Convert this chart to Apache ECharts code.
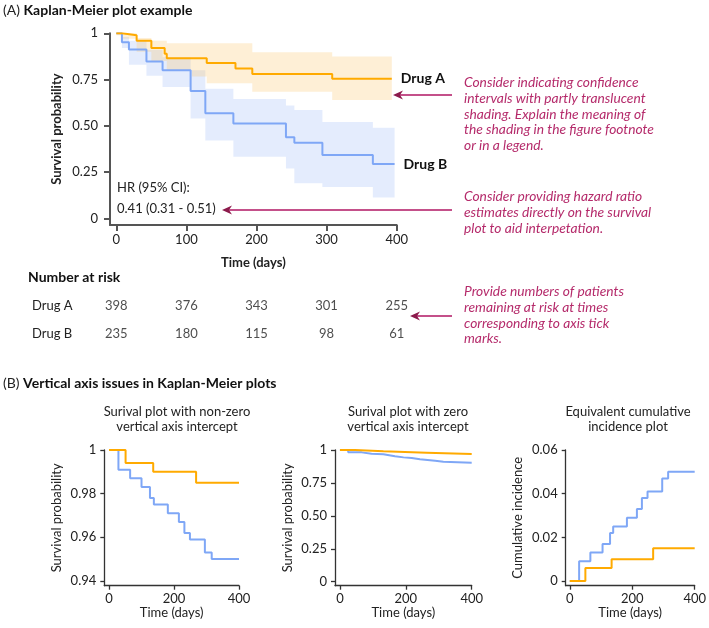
<!DOCTYPE html>
<html><head><meta charset="utf-8">
<script src="https://cdn.jsdelivr.net/npm/echarts@6/dist/echarts.min.js"></script>
<style>html,body{margin:0;padding:0;background:#fff}#c{width:709px;height:628px}</style>
</head><body><div id="c"></div>
<script>
const FONT = 'Lato';
// ---------- Panel A data ----------
const timeTicks = [0, 100, 200, 300, 400];
const survTicks = [0, 0.25, 0.5, 0.75, 1];
const drugATimes = [0, 8, 29, 50, 69, 72, 129, 170, 194, 308, 393];
const drugASurv  = [1, 0.99, 0.96, 0.92, 0.89, 0.865, 0.84, 0.81, 0.78, 0.755, 0.755];
const drugBTimes = [0, 8, 18, 43, 66, 106, 127, 167, 242, 254, 294, 366, 397];
const drugBSurv  = [1, 0.951, 0.913, 0.847, 0.80, 0.688, 0.568, 0.513, 0.438, 0.409, 0.342, 0.293, 0.293];
const bandATimes = [0, 8, 29, 50, 72, 108, 129, 194, 308, 393];
const bandALower = [0.99, 0.97, 0.90, 0.85, 0.80, 0.766, 0.73, 0.684, 0.64];
const bandAUpper = [1, 1, 0.975, 0.96, 0.946, 0.946, 0.946, 0.897, 0.874];
const bandBTimes = [0, 8, 18, 43, 66, 106, 127, 167, 242, 254, 294, 366, 397];
const bandBLower = [1, 0.92, 0.83, 0.77, 0.71, 0.54, 0.42, 0.333, 0.27, 0.19, 0.17, 0.113];
const bandBUpper = [1, 0.98, 0.96, 0.91, 0.87, 0.80, 0.70, 0.645, 0.61, 0.585, 0.52, 0.49];
const riskGroups = ['Drug A', 'Drug B'];
const riskTimes = [0, 100, 200, 300, 400];
const riskA = [398, 376, 343, 301, 255];
const riskB = [235, 180, 115, 98, 61];
// ---------- Panel B data ----------
const smallTimeTicks = [0, 200, 400];
// non-zero intercept plot
const smallATimes = [0, 51, 136, 268, 400];
const smallASurv  = [1, 0.994, 0.990, 0.985, 0.985];
const smallBTimes = [0, 29, 65, 100, 126, 138, 181, 215, 232, 249, 295, 316, 400];
const smallBSurv  = [1, 0.991, 0.987, 0.983, 0.978, 0.975, 0.971, 0.967, 0.962, 0.959, 0.953, 0.950, 0.950];
// zero intercept plot
const zeroATimes = [0, 46, 132, 263, 400];
const zeroASurv  = [1, 0.99, 0.98, 0.97, 0.97];
const zeroBTimes = [0, 25, 66, 96, 132, 167, 193, 218, 243, 266, 289, 314, 400];
const zeroBSurv  = [1, 0.982, 0.972, 0.967, 0.952, 0.944, 0.939, 0.929, 0.924, 0.919, 0.911, 0.904, 0.904];
// cumulative incidence plot
const cumATimes = [0, 50, 134, 267, 400];
const cumAInc   = [0, 0.006, 0.010, 0.015, 0.015];
const cumBTimes = [0, 30, 66, 105, 129, 139, 183, 215, 231, 249, 296, 315, 400];
const cumBInc   = [0, 0.009, 0.013, 0.017, 0.022, 0.025, 0.029, 0.033, 0.038, 0.041, 0.047, 0.050, 0.050];
const nonZeroTicks = [0.94, 0.96, 0.98, 1];
const zeroTicks = [0, 0.25, 0.5, 0.75, 1];
const cumTicks = [0, 0.02, 0.04, 0.06];

const ORANGE = '#FFAA00', BLUE = '#7FA7F6';
const MAG = '#b52b6b', ARROW_LINE = '#c4508a', ARROW_HEAD = '#8c1a4b';

function pairs(ts, vs) { return ts.map((t, i) => [t, vs[i]]); }

function stepLine(ts, vs, color, gi, width, endLabel) {
  const s = {
    type: 'line', xAxisIndex: gi, yAxisIndex: gi, data: pairs(ts, vs), step: 'end',
    symbol: 'none', lineStyle: { color: color, width: width }, itemStyle: { color: color },
    silent: true, z: 3, animation: false
  };
  if (endLabel) s.endLabel = { show: true, formatter: endLabel, distance: 9, fontFamily: FONT, fontWeight: 'bold', fontSize: 14, color: '#111' };
  return s;
}

function bandSeries(ts, lo, hi, color, gi) {
  const data = lo.map((l, i) => [ts[i], ts[i + 1], l, hi[i]]);
  return {
    type: 'custom', xAxisIndex: gi, yAxisIndex: gi, silent: true, z: 1, animation: false,
    encode: { x: [0, 1], y: [2, 3] }, data: data,
    renderItem: function (params, api) {
      if (params.dataIndex !== 0) return null;
      const up = [], down = [];
      for (let i = 0; i < data.length; i++) {
        const d = data[i];
        up.push(api.coord([d[0], d[3]]), api.coord([d[1], d[3]]));
        down.push(api.coord([d[0], d[2]]), api.coord([d[1], d[2]]));
      }
      return { type: 'polygon', shape: { points: up.concat(down.reverse()) }, style: { fill: color } };
    }
  };
}

const baseLabel = { fontFamily: FONT, fontSize: 13, color: '#222' };

function xAx(gi, min, ticks, opts) {
  return {
    gridIndex: gi, type: 'value', min: min, max: 400,
    axisLine: { show: true, onZero: false, lineStyle: { color: opts.color, width: opts.lw } },
    axisTick: { show: true, customValues: ticks, length: opts.tl, lineStyle: { color: opts.color, width: opts.lw } },
    axisLabel: Object.assign({ customValues: ticks, margin: opts.margin }, baseLabel),
    splitLine: { show: false },
    name: 'Time (days)', nameLocation: 'middle', nameGap: opts.nameGap,
    nameTextStyle: { fontFamily: FONT, fontSize: 13, color: '#222', fontWeight: opts.bold ? 'bold' : 'normal' }
  };
}
function yAx(gi, min, max, ticks, fmt, name, opts) {
  return {
    gridIndex: gi, type: 'value', min: min, max: max,
    axisLine: { show: true, onZero: false, lineStyle: { color: opts.color, width: opts.lw } },
    axisTick: { show: true, customValues: ticks, length: opts.tl, lineStyle: { color: opts.color, width: opts.lw } },
    axisLabel: Object.assign({ customValues: ticks, margin: opts.margin, formatter: fmt }, baseLabel),
    splitLine: { show: false },
    name: name, nameLocation: 'middle', nameGap: opts.nameGap,
    nameTextStyle: { fontFamily: FONT, fontSize: 13, color: '#222', fontWeight: opts.bold ? 'bold' : 'normal' }
  };
}
const fmtSurv = v => v === 0 ? '0' : (v === 1 ? '1' : v.toFixed(2));

const topOpt = { color: '#555', lw: 2, tl: 6, margin: 8, nameGap: 31, bold: true };
const topYOpt = { color: '#555', lw: 2, tl: 6, margin: 12, nameGap: 47, bold: true };
const smOpt = { color: '#333', lw: 1.3, tl: 4, margin: 7, nameGap: 18, bold: false };
const smYOpt = { color: '#333', lw: 1.3, tl: 4, margin: 8, nameGap: 41, bold: false };

function text(x, y, str, style) {
  return { type: 'text', x: x, y: y, silent: true, style: Object.assign({ text: str, fontFamily: FONT, fontSize: 13, fill: '#222', textVerticalAlign: 'middle' }, style || {}) };
}
function arrow(x0, x1, y) {
  return { type: 'group', silent: true, children: [
    { type: 'line', shape: { x1: x0 + 6, y1: y, x2: x1, y2: y }, style: { stroke: ARROW_LINE, lineWidth: 2 } },
    { type: 'polygon', shape: { points: [[x0, y], [x0 + 10, y - 4.5], [x0 + 7, y], [x0 + 10, y + 4.5]] }, style: { fill: ARROW_HEAD } }
  ] };
}
function noteLines(x, y0, lines) {
  return lines.map((l, i) => text(x, y0 + i * 15.6, l, { fill: MAG, fontStyle: 'italic', fontSize: 13.8 }));
}

const graphics = [
  { type: 'text', x: 3, y: 10, silent: true, style: { text: '{n|(A) }{b|Kaplan-Meier plot example}', fontFamily: FONT, textVerticalAlign: 'middle',
    rich: { n: { fontFamily: FONT, fontSize: 14, fill: '#222' }, b: { fontFamily: FONT, fontSize: 14, fontWeight: 'bold', fill: '#111' } } } },
  text(117, 188, 'HR (95% CI):'),
  text(117, 209, '0.41 (0.31 - 0.51)'),
  text(28, 277, 'Number at risk', { fontWeight: 'bold', fontSize: 14, fill: '#111' }),
  arrow(393, 452, 95), arrow(222, 452, 210), arrow(410, 452, 316),
  { type: 'text', x: 3, y: 383, silent: true, style: { text: '{n|(B) }{b|Vertical axis issues in Kaplan-Meier plots}', fontFamily: FONT, textVerticalAlign: 'middle',
    rich: { n: { fontFamily: FONT, fontSize: 14, fill: '#222' }, b: { fontFamily: FONT, fontSize: 14, fontWeight: 'bold', fill: '#111' } } } },
  text(177, 412, 'Surival plot with non-zero', { textAlign: 'center' }),
  text(177, 427, 'vertical axis intercept', { textAlign: 'center' }),
  text(408, 412, 'Surival plot with zero', { textAlign: 'center' }),
  text(408, 427, 'vertical axis intercept', { textAlign: 'center' }),
  text(628, 412, 'Equivalent cumulative', { textAlign: 'center' }),
  text(628, 427, 'incidence plot', { textAlign: 'center' })
].concat(
  noteLines(464, 83, ['Consider indicating confidence', 'intervals with partly translucent', 'shading. Explain the meaning of', 'the shading in the figure footnote', 'or in a legend.']),
  noteLines(464, 197, ['Consider providing hazard ratio', 'estimates directly on the survival', 'plot to aid interpetation.']),
  noteLines(464, 292, ['Provide numbers of patients', 'remaining at risk at times', 'corresponding to axis tick', 'marks.'])
);

function riskData(vals, g) { return riskTimes.map((t, i) => [t, g, vals[i]]); }

const option = {
  animation: false,
  backgroundColor: '#fff',
  textStyle: { fontFamily: FONT },
  grid: [
    { left: 110, top: 33.3, width: 286.7, height: 191.7 },
    { left: 110, top: 292, width: 286.7, height: 56 },
    { left: 104.3, top: 450, width: 134.7, height: 135.7 },
    { left: 335, top: 450, width: 136.7, height: 135.7 },
    { left: 565.7, top: 450, width: 136, height: 135.7 }
  ],
  xAxis: [
    xAx(0, -9, timeTicks, topOpt),
    { gridIndex: 1, type: 'value', min: -9, max: 400, show: false },
    xAx(2, -14.5, smallTimeTicks, smOpt),
    xAx(3, -15, smallTimeTicks, smOpt),
    xAx(4, -13, smallTimeTicks, smOpt)
  ],
  yAxis: [
    yAx(0, -0.036, 1, survTicks, fmtSurv, 'Survival probability', topYOpt),
    { gridIndex: 1, type: 'category', data: riskGroups, inverse: true,
      axisLine: { show: false }, axisTick: { show: false }, splitLine: { show: false },
      axisLabel: Object.assign({ align: 'left', margin: 78 }, baseLabel) },
    yAx(2, 0.9378, 1, nonZeroTicks, fmtSurv, 'Survival probability', smYOpt),
    yAx(3, -0.03, 1, zeroTicks, fmtSurv, 'Survival probability', smYOpt),
    yAx(4, -0.00215, 0.06, cumTicks, v => v === 0 ? '0' : v.toFixed(2), 'Cumulative incidence', smYOpt)
  ],
  series: [
    bandSeries(bandBTimes, bandBLower, bandBUpper, 'rgba(120,160,245,0.2)', 0),
    bandSeries(bandATimes, bandALower, bandAUpper, 'rgba(252,190,90,0.25)', 0),
    stepLine(drugBTimes, drugBSurv, BLUE, 0, 2, 'Drug B'),
    stepLine(drugATimes, drugASurv, ORANGE, 0, 2, 'Drug A'),
    { type: 'scatter', xAxisIndex: 1, yAxisIndex: 1, data: riskData(riskA, 'Drug A').concat(riskData(riskB, 'Drug B')),
      symbolSize: 1, itemStyle: { color: 'rgba(0,0,0,0)' }, silent: true,
      label: Object.assign({ show: true, position: 'inside', formatter: p => String(p.value[2]) }, baseLabel) },
    stepLine(smallBTimes, smallBSurv, BLUE, 2, 2),
    stepLine(smallATimes, smallASurv, ORANGE, 2, 2),
    stepLine(zeroBTimes, zeroBSurv, BLUE, 3, 2),
    stepLine(zeroATimes, zeroASurv, ORANGE, 3, 2),
    stepLine(cumBTimes, cumBInc, BLUE, 4, 2),
    stepLine(cumATimes, cumAInc, ORANGE, 4, 2)
  ],
  graphic: graphics
};
const chart = echarts.init(document.getElementById('c'), null, { renderer: 'canvas' });
chart.setOption(option);
</script></body></html>
